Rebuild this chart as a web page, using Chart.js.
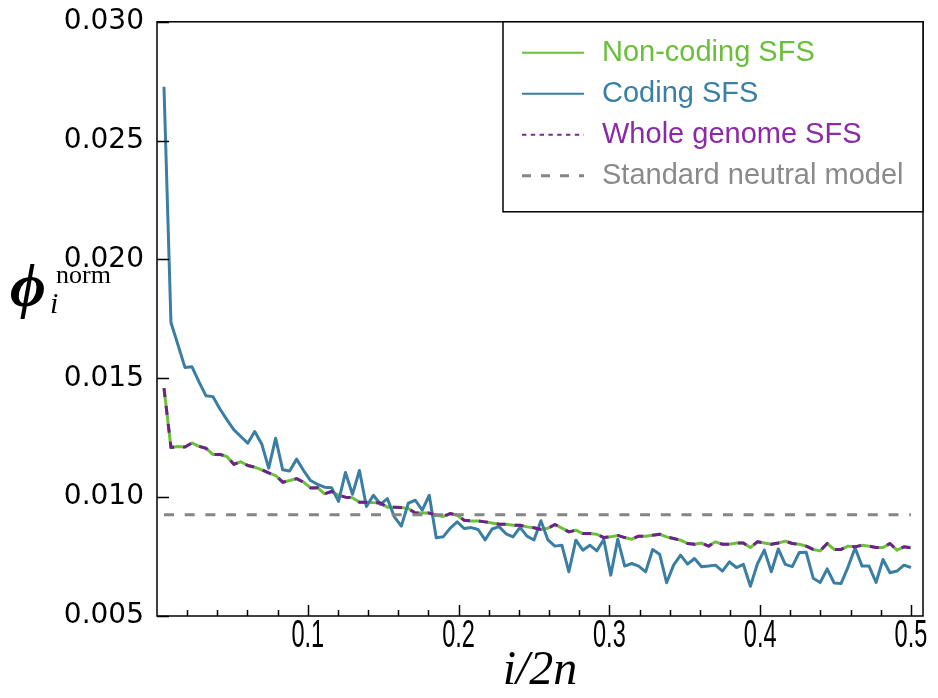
<!DOCTYPE html>
<html>
<head>
<meta charset="utf-8">
<script src="https://cdn.jsdelivr.net/npm/chart.js@4.4.1/dist/chart.umd.min.js"></script>
<style>
html,body{margin:0;padding:0;background:#fff;}
canvas{display:block;}
</style>
</head>
<body>
<canvas id="chart" width="938" height="698"></canvas>
<script>
// sample of 2n chromosomes, folded SFS i = 1..n
const twoN = 216;
const neutralLevel = 0.00926;

const coding = [
  0.02727, 0.01735, 0.01641, 0.01546, 0.01549, 0.01486, 0.01427, 0.01423, 0.01372, 0.01326,
  0.01284, 0.01255, 0.01227, 0.01276, 0.01224, 0.01122, 0.01248, 0.01115, 0.01110, 0.01160,
  0.01112, 0.01070, 0.01054, 0.01042, 0.01040, 0.00982, 0.01104, 0.01012, 0.01112, 0.00961,
  0.01008, 0.00970, 0.00994, 0.00917, 0.00878, 0.00975, 0.00987, 0.00945, 0.01008, 0.00829,
  0.00833, 0.00870, 0.00896, 0.00868, 0.00872, 0.00864, 0.00820, 0.00866, 0.00876, 0.00846,
  0.00833, 0.00873, 0.00836, 0.00820, 0.00901, 0.00820, 0.00794, 0.00798, 0.00686, 0.00819,
  0.00777, 0.00798, 0.00774, 0.00822, 0.00672, 0.00823, 0.00710, 0.00721, 0.00710, 0.00686,
  0.00780, 0.00760, 0.00640, 0.00714, 0.00756, 0.00718, 0.00742, 0.00707, 0.00710, 0.00714,
  0.00689, 0.00728, 0.00704, 0.00717, 0.00625, 0.00719, 0.00777, 0.00686, 0.00782, 0.00717,
  0.00708, 0.00767, 0.00768, 0.00659, 0.00641, 0.00698, 0.00639, 0.00637, 0.00707, 0.00786,
  0.00710, 0.00710, 0.00641, 0.00738, 0.00682, 0.00689, 0.00714, 0.00704
];

const nonCoding = [
  0.01459, 0.01209, 0.01213, 0.01211, 0.01228, 0.01214, 0.01206, 0.01180, 0.01180, 0.01171,
  0.01138, 0.01149, 0.01133, 0.01126, 0.01115, 0.01102, 0.01091, 0.01063, 0.01070, 0.01078,
  0.01063, 0.01039, 0.01040, 0.01014, 0.01024, 0.01008, 0.01000, 0.00998, 0.00979, 0.00979,
  0.00977, 0.00975, 0.00958, 0.00958, 0.00956, 0.00952, 0.00933, 0.00933, 0.00933, 0.00924,
  0.00919, 0.00931, 0.00924, 0.00903, 0.00900, 0.00900, 0.00896, 0.00891, 0.00886, 0.00886,
  0.00882, 0.00882, 0.00875, 0.00871, 0.00864, 0.00869, 0.00885, 0.00870, 0.00854, 0.00861,
  0.00847, 0.00847, 0.00844, 0.00830, 0.00833, 0.00839, 0.00830, 0.00823, 0.00836, 0.00836,
  0.00840, 0.00844, 0.00833, 0.00826, 0.00819, 0.00805, 0.00802, 0.00807, 0.00794, 0.00812,
  0.00802, 0.00802, 0.00807, 0.00807, 0.00788, 0.00812, 0.00807, 0.00802, 0.00807, 0.00815,
  0.00805, 0.00802, 0.00794, 0.00780, 0.00774, 0.00805, 0.00780, 0.00780, 0.00794, 0.00791,
  0.00798, 0.00794, 0.00788, 0.00788, 0.00805, 0.00777, 0.00791, 0.00787
];

const wholeGenome = [
  0.01459, 0.01209, 0.01213, 0.01211, 0.01228, 0.01214, 0.01206, 0.01180, 0.01180, 0.01171,
  0.01138, 0.01149, 0.01133, 0.01126, 0.01115, 0.01102, 0.01091, 0.01063, 0.01070, 0.01078,
  0.01063, 0.01039, 0.01040, 0.01014, 0.01024, 0.01008, 0.01000, 0.00998, 0.00979, 0.00979,
  0.00977, 0.00975, 0.00958, 0.00958, 0.00956, 0.00952, 0.00933, 0.00933, 0.00933, 0.00924,
  0.00919, 0.00931, 0.00924, 0.00903, 0.00900, 0.00900, 0.00896, 0.00891, 0.00886, 0.00886,
  0.00882, 0.00882, 0.00875, 0.00871, 0.00864, 0.00869, 0.00885, 0.00870, 0.00854, 0.00861,
  0.00847, 0.00847, 0.00844, 0.00830, 0.00833, 0.00839, 0.00830, 0.00823, 0.00836, 0.00836,
  0.00840, 0.00844, 0.00833, 0.00826, 0.00819, 0.00805, 0.00802, 0.00807, 0.00794, 0.00812,
  0.00802, 0.00802, 0.00807, 0.00807, 0.00788, 0.00812, 0.00807, 0.00802, 0.00807, 0.00815,
  0.00805, 0.00802, 0.00794, 0.00780, 0.00774, 0.00805, 0.00780, 0.00780, 0.00794, 0.00791,
  0.00798, 0.00794, 0.00788, 0.00788, 0.00805, 0.00777, 0.00791, 0.00787
];

const xTicks = [0.1, 0.2, 0.3, 0.4, 0.5];
const xMinorTicks = [0.02, 0.04, 0.06, 0.08, 0.12, 0.14, 0.16, 0.18, 0.22, 0.24, 0.26, 0.28,
  0.32, 0.34, 0.36, 0.38, 0.42, 0.44, 0.46, 0.48];
const yTicks = [0.005, 0.010, 0.015, 0.020, 0.025, 0.030];

const seriesNames = ['Non-coding SFS', 'Coding SFS', 'Whole genome SFS', 'Standard neutral model'];

const green = '#6cc03a', blue = '#3a7ea3', purple = '#6f1f8f', grey = '#858585';

const pts = arr => arr.map((v, k) => ({x: (k + 1) / twoN, y: v}));

// legend entries: colour of text, line style of the sample
const legendRows = [
  {text: seriesNames[0], color: '#6abf3a', line: green, width: 2, dash: []},
  {text: seriesNames[1], color: '#3a80a6', line: blue, width: 2, dash: []},
  {text: seriesNames[2], color: '#8a2aa6', line: '#7a2898', width: 2, dash: [4.4, 4.4]},
  {text: seriesNames[3], color: '#8a8a8a', line: grey, width: 3, dash: [9, 10]}
];

const framePlugin = {
  id: 'frame',
  afterDatasetsDraw(chart) {
    const {ctx, chartArea: a, scales: {x, y}} = chart;
    ctx.save();
    // frame
    ctx.strokeStyle = '#000';
    ctx.lineWidth = 1.5;
    ctx.strokeRect(a.left, a.top, a.right - a.left, a.bottom - a.top);
    // inward ticks
    ctx.beginPath();
    yTicks.forEach(v => {
      const py = Math.round(y.getPixelForValue(v)) + 0.5;
      ctx.moveTo(a.left, py); ctx.lineTo(a.left + 12, py);
    });
    xTicks.forEach(v => {
      const px = Math.round(x.getPixelForValue(v)) + 0.5;
      ctx.moveTo(px, a.bottom); ctx.lineTo(px, a.bottom - 11);
    });
    xMinorTicks.forEach(v => {
      const px = Math.round(x.getPixelForValue(v)) + 0.5;
      ctx.moveTo(px, a.bottom); ctx.lineTo(px, a.bottom - 6);
    });
    ctx.stroke();

    // x tick labels, narrow face
    ctx.fillStyle = '#000';
    ctx.font = '38px "Liberation Sans", Arial, sans-serif';
    ctx.textAlign = 'center';
    ctx.textBaseline = 'middle';
    xTicks.forEach(v => {
      ctx.save();
      ctx.translate(x.getPixelForValue(v), 637);
      ctx.scale(0.62, 1);
      ctx.fillText(v.toFixed(1), 0, 0);
      ctx.restore();
    });

    // legend box
    const lx = 503, ly = a.top, lw = a.right - lx, lh = 190;
    ctx.fillStyle = '#fff';
    ctx.fillRect(lx, ly, lw, lh);
    ctx.strokeRect(lx, ly, lw, lh);
    ctx.font = '29px "Liberation Sans", Arial, sans-serif';
    ctx.textAlign = 'left';
    ctx.textBaseline = 'middle';
    legendRows.forEach((r, k) => {
      const ry = ly + 31 + k * 41;
      ctx.beginPath();
      ctx.setLineDash(r.dash);
      ctx.strokeStyle = r.line;
      ctx.lineWidth = r.width;
      ctx.moveTo(522, ry); ctx.lineTo(584, ry);
      ctx.stroke();
      ctx.setLineDash([]);
      ctx.fillStyle = r.color;
      ctx.fillText(r.text, 602, ry);
    });

    // axis titles
    ctx.fillStyle = '#000';
    ctx.textBaseline = 'alphabetic';
    ctx.textAlign = 'center';
    ctx.font = 'italic 48px "Liberation Serif", serif';
    ctx.fillText('i/2n', (a.left + a.right) / 2, 684);
    ctx.textAlign = 'left';
    ctx.font = 'italic bold 62px "Liberation Serif", "DejaVu Serif", serif';
    ctx.fillText('\u03D5', 10, 306);
    ctx.font = 'italic 30px "Liberation Serif", serif';
    ctx.fillText('i', 50, 313);
    ctx.font = '26px "Liberation Serif", serif';
    ctx.fillText('norm', 56, 283);
    ctx.restore();
  }
};

new Chart(document.getElementById('chart'), {
  type: 'line',
  data: {
    datasets: [
      {label: seriesNames[3], data: pts(coding.map(() => neutralLevel)), borderColor: grey,
        borderWidth: 3, borderDash: [10, 10.7]},
      {label: seriesNames[2], data: pts(wholeGenome), borderColor: purple,
        borderWidth: 3, borderDash: [9, 9]},
      {label: seriesNames[1], data: pts(coding), borderColor: blue, borderWidth: 3},
      {label: seriesNames[0], data: pts(nonCoding), borderColor: green, borderWidth: 3}
    ]
  },
  options: {
    responsive: false,
    animation: false,
    devicePixelRatio: 1,
    layout: {padding: {left: 0, right: 15, top: 21, bottom: 0}},
    elements: {
      point: {radius: 0},
      line: {tension: 0, borderCapStyle: 'butt', borderJoinStyle: 'round'}
    },
    plugins: {legend: {display: false}, tooltip: {enabled: false}},
    scales: {
      x: {
        type: 'linear', min: 0, max: 0.508,
        grid: {display: false}, border: {display: false},
        afterBuildTicks: s => { s.ticks = xTicks.map(v => ({value: v})); },
        afterFit: s => { s.height = 82; },
        ticks: {display: false}
      },
      y: {
        min: 0.005, max: 0.030,
        grid: {display: false}, border: {display: false},
        afterBuildTicks: s => { s.ticks = yTicks.map(v => ({value: v})); },
        afterFit: s => { s.width = 157; },
        ticks: {
          autoSkip: false, padding: 5, color: '#000',
          font: {family: '"DejaVu Sans", sans-serif', size: 28},
          callback: v => v.toFixed(3)
        }
      }
    }
  },
  plugins: [framePlugin]
});
</script>
</body>
</html>
